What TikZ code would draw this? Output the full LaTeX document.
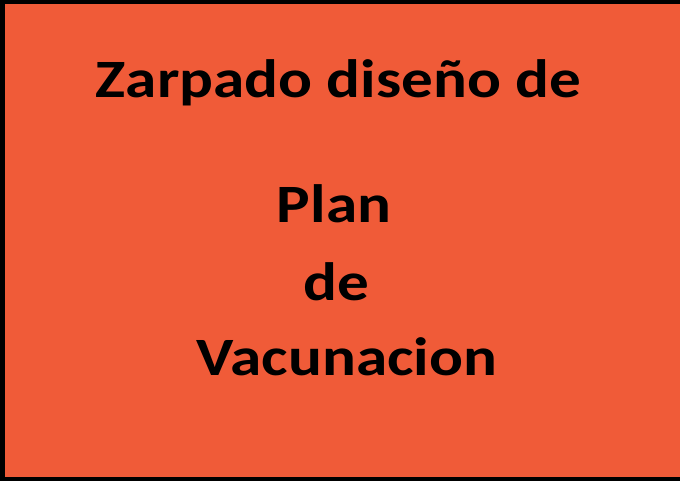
\documentclass[tikz,border=0pt]{standalone}
\usepackage{fontspec}
\setmainfont{Carlito}
\usetikzlibrary{positioning}
\definecolor{posterorange}{RGB}{240,91,56}
\newcommand{\widetext}[1]{\scalebox{1.17}[1]{#1}}

\begin{document}
\begin{tikzpicture}[
  x=1pt, y=-1pt,
 posterframe/.style={
    fill=black,
    draw=none
  },
 posterback/.style={
    fill=posterorange,
    draw=none
  },
 postertext/.style={
    anchor=base,
    inner sep=0pt,
    text=black,
    font=\fontsize{54}{60}\selectfont\bfseries
  }]
  \useasboundingbox (0,0) rectangle (680,481);
  \fill[posterframe] (0,0) rectangle (680,481);
  \fill[posterback] (5,4) rectangle (680,477);
  \node[postertext] (title) at (338.5,98) {\widetext{Zarpado diseño de}};
  \node[postertext] (plan) at (334,223) {\widetext{Plan}};
  \node[postertext] (de) at (336.5,300) {\widetext{de}};
  \node[postertext] (vacunacion) at (347,375) {\widetext{Vacunacion}};
\end{tikzpicture}
\end{document}
